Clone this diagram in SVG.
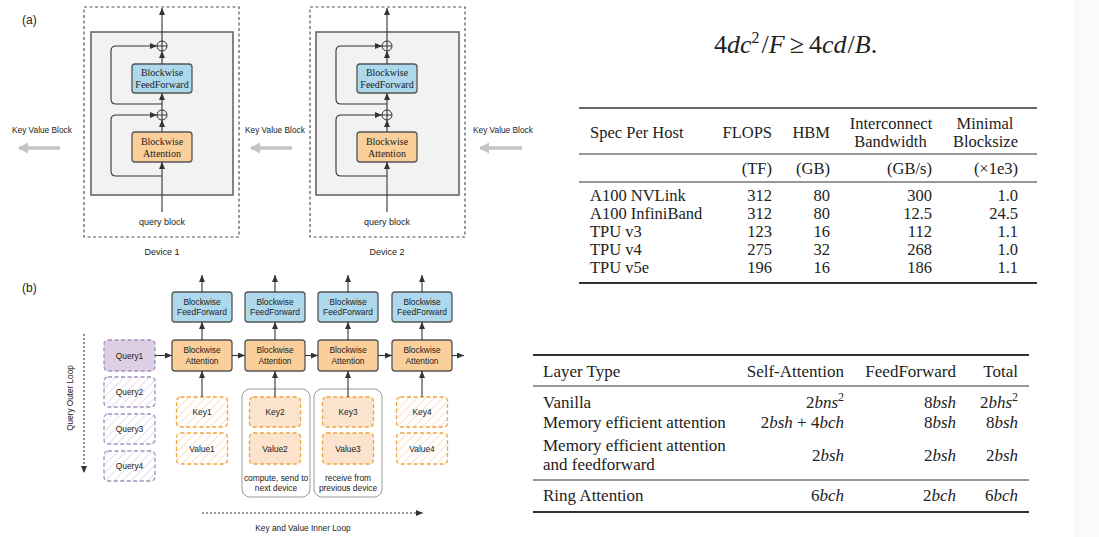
<svg xmlns="http://www.w3.org/2000/svg" width="1099" height="537" viewBox="0 0 1099 537">
<style>
.sans{font-family:"Liberation Sans",Arial,sans-serif;fill:#222}
.serif{font-family:"Liberation Serif","Times New Roman",serif;fill:#222}
.dev{fill:none;stroke:#555;stroke-width:1.2;stroke-dasharray:3 2.5}
.inner{fill:#f2f2f2;stroke:#666;stroke-width:1.6}
.ff{fill:#aed8ec;stroke:#555;stroke-width:1.3}
.att{fill:#fbcf9a;stroke:#555;stroke-width:1.3}
.ln{fill:none;stroke:#333;stroke-width:1.1}
.plus{fill:#f2f2f2;stroke:#333;stroke-width:1}
.kvarrow{stroke:#c4c4c4;stroke-width:3.5;fill:none}
.q1{fill:#ddd0e4;stroke:#a58fbb;stroke-width:1.3;stroke-dasharray:4 2.5}
.qh{fill:url(#hatchP);stroke:#a58fbb;stroke-width:1.3;stroke-dasharray:4 2.5}
.kh{fill:url(#hatchO);stroke:#f0a43c;stroke-width:1.3;stroke-dasharray:4 2.5}
.kf{fill:#fbe3cd;stroke:#f0a43c;stroke-width:1.3;stroke-dasharray:4 2.5}
.grp{fill:none;stroke:#999;stroke-width:1}
.rule{stroke:#333}
.t1{font-size:16.5px}
.t2{font-size:17px}
.b8{font-size:8.4px}
</style>
<defs>
<marker id="ah" markerUnits="userSpaceOnUse" markerWidth="7" markerHeight="6" refX="7" refY="3" orient="auto"><path d="M0,0 L7,3 L0,6 z" fill="#333"/></marker>
<marker id="ahg" markerUnits="userSpaceOnUse" markerWidth="10" markerHeight="11" refX="9" refY="5.5" orient="auto"><path d="M0,0 L10,5.5 L0,11 z" fill="#c4c4c4"/></marker>
<pattern id="hatchP" patternUnits="userSpaceOnUse" width="6" height="6" patternTransform="rotate(45)"><rect width="6" height="6" fill="#fff"/><line x1="0" y1="0" x2="0" y2="6" stroke="#d4c8e2" stroke-width="1.2"/></pattern>
<pattern id="hatchO" patternUnits="userSpaceOnUse" width="6" height="6" patternTransform="rotate(45)"><rect width="6" height="6" fill="#fff"/><line x1="0" y1="0" x2="0" y2="6" stroke="#f7cfa3" stroke-width="1.2"/></pattern>
</defs>
<rect width="1099" height="537" fill="#fff"/>
<rect x="1073" y="0" width="26" height="537" fill="#fafafa"/>

<!-- Part (a) -->
<text class="sans" x="22" y="24" font-size="12">(a)</text>

<g id="device1">
<rect class="dev" x="84" y="7" width="155" height="230"/>
<rect class="inner" x="91" y="32" width="142" height="163"/>
<rect class="ff" x="132" y="64" width="60" height="29" rx="3"/>
<text class="serif" x="162" y="76" font-size="10" text-anchor="middle">Blockwise</text>
<text class="serif" x="162" y="88" font-size="10" text-anchor="middle">FeedForward</text>
<rect class="att" x="132" y="132" width="60" height="30" rx="3"/>
<text class="serif" x="162" y="144.5" font-size="10" text-anchor="middle">Blockwise</text>
<text class="serif" x="162" y="156.5" font-size="10" text-anchor="middle">Attention</text>
<circle class="plus" cx="162" cy="46" r="5"/><path class="ln" d="M157,46 H167 M162,41 V51"/>
<circle class="plus" cx="162" cy="115" r="5"/><path class="ln" d="M157,115 H167 M162,110 V120"/>
<text class="sans" x="162" y="225" font-size="9" text-anchor="middle">query block</text>
<text class="sans" x="162" y="255" font-size="9" text-anchor="middle">Device 1</text>
</g>

<g id="device2">
<rect class="dev" x="310" y="7" width="155" height="230"/>
<rect class="inner" x="316" y="32" width="143" height="163"/>
<rect class="ff" x="357" y="64" width="60" height="29" rx="3"/>
<text class="serif" x="387" y="76" font-size="10" text-anchor="middle">Blockwise</text>
<text class="serif" x="387" y="88" font-size="10" text-anchor="middle">FeedForward</text>
<rect class="att" x="357" y="132" width="60" height="30" rx="3"/>
<text class="serif" x="387" y="144.5" font-size="10" text-anchor="middle">Blockwise</text>
<text class="serif" x="387" y="156.5" font-size="10" text-anchor="middle">Attention</text>
<circle class="plus" cx="387" cy="46" r="5"/><path class="ln" d="M382,46 H392 M387,41 V51"/>
<circle class="plus" cx="387" cy="115" r="5"/><path class="ln" d="M382,115 H392 M387,110 V120"/>
<text class="sans" x="387" y="225" font-size="9" text-anchor="middle">query block</text>
<text class="sans" x="387" y="255" font-size="9" text-anchor="middle">Device 2</text>
</g>

<g id="kv-labels">
<text class="sans" x="12" y="133" font-size="8.3">Key Value Block</text>
<text class="sans" x="245" y="133" font-size="8.3">Key Value Block</text>
<text class="sans" x="473" y="133" font-size="8.3">Key Value Block</text>
</g>

<g id="connectors-a">
<line class="ln" x1="162" y1="212" x2="162" y2="162" marker-end="url(#ah)"/>
<line class="ln" x1="162" y1="132" x2="162" y2="120" marker-end="url(#ah)"/>
<line class="ln" x1="162" y1="110" x2="162" y2="93" marker-end="url(#ah)"/>
<line class="ln" x1="162" y1="64" x2="162" y2="51" marker-end="url(#ah)"/>
<line class="ln" x1="162" y1="41" x2="162" y2="8" stroke="#777" marker-end="url(#ah)"/>
<path class="ln" d="M162,176 H116 Q111,176 111,171 V120 Q111,115 116,115 H157" marker-end="url(#ah)"/>
<path class="ln" d="M162,104 H116 Q111,104 111,99 V51 Q111,46 116,46 H157" marker-end="url(#ah)"/>
<line class="ln" x1="387" y1="212" x2="387" y2="162" marker-end="url(#ah)"/>
<line class="ln" x1="387" y1="132" x2="387" y2="120" marker-end="url(#ah)"/>
<line class="ln" x1="387" y1="110" x2="387" y2="93" marker-end="url(#ah)"/>
<line class="ln" x1="387" y1="64" x2="387" y2="51" marker-end="url(#ah)"/>
<line class="ln" x1="387" y1="41" x2="387" y2="8" stroke="#777" marker-end="url(#ah)"/>
<path class="ln" d="M387,176 H341 Q336,176 336,171 V120 Q336,115 341,115 H382" marker-end="url(#ah)"/>
<path class="ln" d="M387,104 H341 Q336,104 336,99 V51 Q336,46 341,46 H382" marker-end="url(#ah)"/>
<line class="kvarrow" x1="60" y1="148" x2="19" y2="148" marker-end="url(#ahg)"/>
<line class="kvarrow" x1="292" y1="148" x2="251" y2="148" marker-end="url(#ahg)"/>
<line class="kvarrow" x1="522" y1="148" x2="480" y2="148" marker-end="url(#ahg)"/>
</g>

<!-- Part (b) -->
<text class="sans" x="22" y="292" font-size="12">(b)</text>

<g id="groups-b">
<rect class="grp" x="242" y="389" width="68" height="108" rx="8"/>
<text class="sans b8" x="276" y="481" text-anchor="middle">compute, send to</text>
<text class="sans b8" x="276" y="491" text-anchor="middle">next device</text>
<rect class="grp" x="314" y="389" width="68" height="108" rx="8"/>
<text class="sans b8" x="348" y="481" text-anchor="middle">receive from</text>
<text class="sans b8" x="348" y="491" text-anchor="middle">previous device</text>
</g>

<g id="queries">
<rect class="q1" x="104" y="340" width="51" height="31" rx="4"/>
<text class="sans b8" x="129.5" y="358.5" text-anchor="middle">Query1</text>
<rect class="qh" x="104" y="377" width="51" height="30" rx="4"/>
<text class="sans b8" x="129.5" y="395" text-anchor="middle">Query2</text>
<rect class="qh" x="104" y="414" width="51" height="30" rx="4"/>
<text class="sans b8" x="129.5" y="432" text-anchor="middle">Query3</text>
<rect class="qh" x="104" y="451" width="51" height="30" rx="4"/>
<text class="sans b8" x="129.5" y="469" text-anchor="middle">Query4</text>
<text class="sans" font-size="8.2" transform="translate(73,398) rotate(-90)" text-anchor="middle">Query Outer Loop</text>
</g>

<g id="col1">
<rect class="ff" x="172" y="292" width="60" height="30" rx="3"/>
<text class="sans b8" x="202" y="305" text-anchor="middle">Blockwise</text>
<text class="sans b8" x="202" y="315" text-anchor="middle">FeedForward</text>
<rect class="att" x="172" y="340" width="60" height="31" rx="3"/>
<text class="sans b8" x="202" y="353" text-anchor="middle">Blockwise</text>
<text class="sans b8" x="202" y="364" text-anchor="middle">Attention</text>
<rect class="kh" x="176.5" y="397" width="51" height="30" rx="4"/>
<text class="sans b8" x="202" y="415" text-anchor="middle">Key1</text>
<rect class="kh" x="176.5" y="433" width="51" height="31" rx="4"/>
<text class="sans b8" x="202" y="451.5" text-anchor="middle">Value1</text>
</g>
<g id="col2">
<rect class="ff" x="245" y="292" width="60" height="30" rx="3"/>
<text class="sans b8" x="275" y="305" text-anchor="middle">Blockwise</text>
<text class="sans b8" x="275" y="315" text-anchor="middle">FeedForward</text>
<rect class="att" x="245" y="340" width="60" height="31" rx="3"/>
<text class="sans b8" x="275" y="353" text-anchor="middle">Blockwise</text>
<text class="sans b8" x="275" y="364" text-anchor="middle">Attention</text>
<rect class="kf" x="249.5" y="397" width="51" height="30" rx="4"/>
<text class="sans b8" x="275" y="415" text-anchor="middle">Key2</text>
<rect class="kf" x="249.5" y="433" width="51" height="31" rx="4"/>
<text class="sans b8" x="275" y="451.5" text-anchor="middle">Value2</text>
</g>
<g id="col3">
<rect class="ff" x="318" y="292" width="60" height="30" rx="3"/>
<text class="sans b8" x="348" y="305" text-anchor="middle">Blockwise</text>
<text class="sans b8" x="348" y="315" text-anchor="middle">FeedForward</text>
<rect class="att" x="318" y="340" width="60" height="31" rx="3"/>
<text class="sans b8" x="348" y="353" text-anchor="middle">Blockwise</text>
<text class="sans b8" x="348" y="364" text-anchor="middle">Attention</text>
<rect class="kf" x="322.5" y="397" width="51" height="30" rx="4"/>
<text class="sans b8" x="348" y="415" text-anchor="middle">Key3</text>
<rect class="kf" x="322.5" y="433" width="51" height="31" rx="4"/>
<text class="sans b8" x="348" y="451.5" text-anchor="middle">Value3</text>
</g>
<g id="col4">
<rect class="ff" x="392" y="292" width="60" height="30" rx="3"/>
<text class="sans b8" x="422" y="305" text-anchor="middle">Blockwise</text>
<text class="sans b8" x="422" y="315" text-anchor="middle">FeedForward</text>
<rect class="att" x="392" y="340" width="60" height="31" rx="3"/>
<text class="sans b8" x="422" y="353" text-anchor="middle">Blockwise</text>
<text class="sans b8" x="422" y="364" text-anchor="middle">Attention</text>
<rect class="kh" x="396.5" y="397" width="51" height="30" rx="4"/>
<text class="sans b8" x="422" y="415" text-anchor="middle">Key4</text>
<rect class="kh" x="396.5" y="433" width="51" height="31" rx="4"/>
<text class="sans b8" x="422" y="451.5" text-anchor="middle">Value4</text>
</g>
<text class="sans" x="303" y="531" font-size="8.3" text-anchor="middle">Key and Value Inner Loop</text>

<g id="connectors-b">
<line class="ln" x1="202" y1="292" x2="202" y2="275" marker-end="url(#ah)"/>
<line class="ln" x1="275" y1="292" x2="275" y2="275" marker-end="url(#ah)"/>
<line class="ln" x1="348" y1="292" x2="348" y2="275" marker-end="url(#ah)"/>
<line class="ln" x1="422" y1="292" x2="422" y2="275" marker-end="url(#ah)"/>
<line class="ln" x1="202" y1="340" x2="202" y2="322" marker-end="url(#ah)"/>
<line class="ln" x1="275" y1="340" x2="275" y2="322" marker-end="url(#ah)"/>
<line class="ln" x1="348" y1="340" x2="348" y2="322" marker-end="url(#ah)"/>
<line class="ln" x1="422" y1="340" x2="422" y2="322" marker-end="url(#ah)"/>
<line class="ln" x1="202" y1="397" x2="202" y2="371" marker-end="url(#ah)"/>
<line class="ln" x1="275" y1="397" x2="275" y2="371" marker-end="url(#ah)"/>
<line class="ln" x1="348" y1="397" x2="348" y2="371" marker-end="url(#ah)"/>
<line class="ln" x1="422" y1="397" x2="422" y2="371" marker-end="url(#ah)"/>
<line class="ln" x1="155" y1="355.5" x2="172" y2="355.5" marker-end="url(#ah)"/>
<line class="ln" x1="232" y1="355.5" x2="245" y2="355.5" marker-end="url(#ah)"/>
<line class="ln" x1="305" y1="355.5" x2="318" y2="355.5" marker-end="url(#ah)"/>
<line class="ln" x1="378" y1="355.5" x2="392" y2="355.5" marker-end="url(#ah)"/>
<line class="ln" x1="452" y1="355.5" x2="464" y2="355.5" marker-end="url(#ah)"/>
<line class="ln" x1="84" y1="334" x2="84" y2="473" stroke-dasharray="2 2" marker-end="url(#ah)"/>
<line class="ln" x1="202" y1="513" x2="423" y2="513" stroke-dasharray="2 2" marker-end="url(#ah)"/>
</g>

<!-- Formula -->
<text class="serif" x="714" y="53" font-size="26">4<tspan font-style="italic">dc</tspan><tspan font-size="16" dy="-10">2</tspan><tspan dy="10" dx="2">/</tspan><tspan font-style="italic">F</tspan><tspan dx="5">≥</tspan><tspan dx="5">4</tspan><tspan font-style="italic">cd</tspan><tspan dx="1">/</tspan><tspan font-style="italic">B</tspan>.</text>

<!-- Table 1 -->
<g id="table1" class="serif t1">
<line class="rule" x1="579" y1="108" x2="1037" y2="108" stroke-width="1.5"/>
<text x="590" y="138">Spec Per Host</text>
<text x="772" y="138" text-anchor="end">FLOPS</text>
<text x="830" y="138" text-anchor="end">HBM</text>
<text x="891" y="128.5" text-anchor="middle">Interconnect</text>
<text x="890.5" y="146.5" text-anchor="middle">Bandwidth</text>
<text x="985" y="128.5" text-anchor="middle">Minimal</text>
<text x="985.5" y="146.5" text-anchor="middle">Blocksize</text>
<line class="rule" x1="579" y1="154" x2="1037" y2="154" stroke-width="1.2"/>
<text x="772" y="174" text-anchor="end">(TF)</text>
<text x="830" y="174" text-anchor="end">(GB)</text>
<text x="932" y="174" text-anchor="end">(GB/s)</text>
<text x="1018" y="174" text-anchor="end">(×1e3)</text>
<line class="rule" x1="579" y1="182" x2="1037" y2="182" stroke-width="1.2"/>
<text x="590" y="201">A100 NVLink</text><text x="772" y="201" text-anchor="end">312</text><text x="830" y="201" text-anchor="end">80</text><text x="932" y="201" text-anchor="end">300</text><text x="1018" y="201" text-anchor="end">1.0</text>
<text x="590" y="218.5">A100 InfiniBand</text><text x="772" y="218.5" text-anchor="end">312</text><text x="830" y="218.5" text-anchor="end">80</text><text x="932" y="218.5" text-anchor="end">12.5</text><text x="1018" y="218.5" text-anchor="end">24.5</text>
<text x="590" y="236.5">TPU v3</text><text x="772" y="236.5" text-anchor="end">123</text><text x="830" y="236.5" text-anchor="end">16</text><text x="932" y="236.5" text-anchor="end">112</text><text x="1018" y="236.5" text-anchor="end">1.1</text>
<text x="590" y="254.5">TPU v4</text><text x="772" y="254.5" text-anchor="end">275</text><text x="830" y="254.5" text-anchor="end">32</text><text x="932" y="254.5" text-anchor="end">268</text><text x="1018" y="254.5" text-anchor="end">1.0</text>
<text x="590" y="272.5">TPU v5e</text><text x="772" y="272.5" text-anchor="end">196</text><text x="830" y="272.5" text-anchor="end">16</text><text x="932" y="272.5" text-anchor="end">186</text><text x="1018" y="272.5" text-anchor="end">1.1</text>
<line class="rule" x1="579" y1="283" x2="1037" y2="283" stroke-width="2"/>
</g>

<!-- Table 2 -->
<g id="table2" class="serif t2">
<line class="rule" x1="533" y1="355" x2="1029" y2="355" stroke-width="2"/>
<text x="543" y="377">Layer Type</text>
<text x="844" y="377" text-anchor="end">Self-Attention</text>
<text x="956" y="377" text-anchor="end">FeedForward</text>
<text x="1018" y="377" text-anchor="end">Total</text>
<line class="rule" x1="533" y1="386" x2="1029" y2="386" stroke-width="1.2"/>
<text x="543" y="408">Vanilla</text>
<text x="844" y="408" text-anchor="end">2<tspan font-style="italic">bns</tspan><tspan font-size="12" dy="-7">2</tspan></text>
<text x="956" y="408" text-anchor="end">8<tspan font-style="italic">bsh</tspan></text>
<text x="1018" y="408" text-anchor="end">2<tspan font-style="italic">bhs</tspan><tspan font-size="12" dy="-7">2</tspan></text>
<text x="543" y="428">Memory efficient attention</text>
<text x="844" y="428" text-anchor="end">2<tspan font-style="italic">bsh</tspan> + 4<tspan font-style="italic">bch</tspan></text>
<text x="956" y="428" text-anchor="end">8<tspan font-style="italic">bsh</tspan></text>
<text x="1018" y="428" text-anchor="end">8<tspan font-style="italic">bsh</tspan></text>
<text x="543" y="451">Memory efficient attention</text>
<text x="543" y="470">and feedforward</text>
<text x="844" y="461" text-anchor="end">2<tspan font-style="italic">bsh</tspan></text>
<text x="956" y="461" text-anchor="end">2<tspan font-style="italic">bsh</tspan></text>
<text x="1018" y="461" text-anchor="end">2<tspan font-style="italic">bsh</tspan></text>
<line class="rule" x1="533" y1="480" x2="1029" y2="480" stroke-width="1.2"/>
<text x="543" y="501">Ring Attention</text>
<text x="844" y="501" text-anchor="end">6<tspan font-style="italic">bch</tspan></text>
<text x="956" y="501" text-anchor="end">2<tspan font-style="italic">bch</tspan></text>
<text x="1018" y="501" text-anchor="end">6<tspan font-style="italic">bch</tspan></text>
<line class="rule" x1="533" y1="512" x2="1029" y2="512" stroke-width="2"/>
</g>
</svg>
